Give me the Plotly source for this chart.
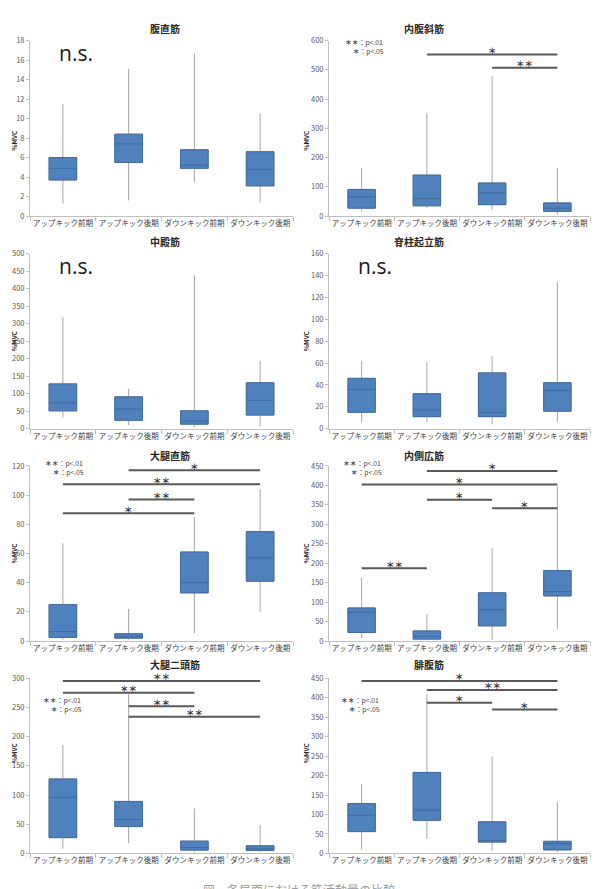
import plotly.graph_objects as go

W, H = 598, 889

categories = ["アップキック前期", "アップキック後期", "ダウンキック前期", "ダウンキック後期"]

titles = ["腹直筋", "内腹斜筋", "中殿筋", "脊柱起立筋", "大腿直筋", "内側広筋", "大腿二頭筋", "腓腹筋"]

# (lower whisker, q1, median, q3, upper whisker) per category
rectus_abdominis = [(1.3, 3.7, 4.9, 6.0, 11.5), (1.6, 5.5, 7.4, 8.4, 15.1),
                    (3.5, 4.9, 5.2, 6.8, 16.7), (1.4, 3.1, 4.8, 6.6, 10.5)]
internal_oblique = [(15, 27, 66, 91, 164), (27, 35, 60, 140, 352),
                    (21, 39, 79, 113, 479), (5, 16, 27, 45, 164)]
gluteus_medius = [(32, 51, 74, 128, 318), (10, 24, 56, 91, 114),
                  (4, 13, 22, 51, 438), (6, 39, 81, 131, 194)]
erector_spinae = [(6, 15, 36, 46, 62), (6, 11, 17, 32, 61),
                  (4, 11, 15, 51, 66), (6, 16, 35, 42, 134)]
rectus_femoris = [(1, 2.5, 6.5, 25, 67), (1, 2, 3, 5, 22),
                  (5.5, 33, 40, 61, 85), (20, 41, 57, 75, 104)]
vastus_medialis = [(8, 22, 74, 85, 162), (2, 5, 12, 26, 69),
                   (3, 39, 80, 124, 239), (30, 116, 127, 181, 398)]
biceps_femoris = [(8, 27, 96, 127.5, 185.5), (17.5, 46, 58, 89, 273),
                  (2, 5.6, 10, 21, 77), (2, 5, 8, 13, 48.5)]
gastrocnemius = [(10, 56, 98, 128, 178.5), (37, 85, 111, 208, 409),
                 (8.5, 29, 33, 81, 249), (3, 9, 25, 31, 132)]

panel_data = [rectus_abdominis, internal_oblique, gluteus_medius, erector_spinae,
              rectus_femoris, vastus_medialis, biceps_femoris, gastrocnemius]

y_max = [18, 600, 500, 160, 120, 450, 300, 450]
y_step = [2, 100, 50, 20, 20, 50, 50, 50]

# significance bars: (from category index, to category index, level, label)
sig_internal_oblique = [(1, 3, 552, "＊"), (2, 3, 507, "＊＊")]
sig_rectus_femoris = [(1, 3, 117, "＊"), (0, 3, 107.5, "＊＊"), (1, 2, 97, "＊＊"), (0, 2, 87.5, "＊")]
sig_vastus_medialis = [(1, 3, 437, "＊"), (0, 3, 402, "＊"), (1, 2, 363, "＊"), (2, 3, 341, "＊"), (0, 1, 187, "＊＊")]
sig_biceps_femoris = [(0, 3, 295.5, "＊＊"), (0, 2, 275, "＊＊"), (1, 2, 252, "＊＊"), (1, 3, 234, "＊＊")]
sig_gastrocnemius = [(0, 3, 443, "＊"), (1, 3, 420, "＊＊"), (1, 2, 387, "＊"), (2, 3, 370, "＊")]

panel_sig = [[], sig_internal_oblique, [], [], sig_rectus_femoris, sig_vastus_medialis,
             sig_biceps_femoris, sig_gastrocnemius]
ns_panels = [0, 2, 3]
legend_panels = {1: (343, 41.5), 4: (43, 467.5), 5: (341, 467.5), 6: (41, 707.5), 7: (339, 707.5)}


def px(x):
    return x / W


def py(y):
    return 1 - y / H


col_x = [(30, 293), (329, 590)]
col_title_x = [148, 446]
row_y = [(35, 212.7), (250.7, 428), (465.7, 643), (680.7, 858)]
title_y = [23, 238, 455, 667]

JP = "Noto Sans CJK JP"
BOX_FILL = "#4F81BD"
BOX_LINE = "#3F6A9E"
WHISK = "#A6A6A6"
AXIS = "#BFBFBF"

fig = go.Figure()
annotations = []
shapes = []

for i, stats in enumerate(panel_data):
    r, c = divmod(i, 2)
    n = i + 1
    xa = "x" if n == 1 else f"x{n}"
    ya = "y" if n == 1 else f"y{n}"
    lo = [s[0] for s in stats]
    q1 = [s[1] for s in stats]
    md = [s[2] for s in stats]
    q3 = [s[3] for s in stats]
    hi = [s[4] for s in stats]
    # whiskers (grey)
    fig.add_trace(go.Box(x=categories, q1=q1, median=md, q3=q3, lowerfence=lo, upperfence=hi,
                         boxpoints=False, width=0.42, whiskerwidth=0,
                         line=dict(color=WHISK, width=1), fillcolor="rgba(0,0,0,0)",
                         xaxis=xa, yaxis=ya, showlegend=False, hoverinfo="skip"))
    # boxes (blue)
    fig.add_trace(go.Box(x=categories, q1=q1, median=md, q3=q3, lowerfence=q1, upperfence=q3,
                         boxpoints=False, width=0.42, whiskerwidth=0,
                         line=dict(color=BOX_LINE, width=1), fillcolor=BOX_FILL,
                         xaxis=xa, yaxis=ya, showlegend=False))

    x0, x1 = col_x[c]
    top, bot = row_y[r]
    xkey = "xaxis" if n == 1 else f"xaxis{n}"
    ykey = "yaxis" if n == 1 else f"yaxis{n}"
    fig.layout[xkey] = dict(domain=[px(x0), px(x1)], anchor=ya, type="category",
                            categoryorder="array", categoryarray=categories,
                            range=[-0.5, 3.5], showline=True, linecolor=AXIS, linewidth=1,
                            ticks="outside", tickson="boundaries", ticklen=4, tickcolor=AXIS,
                            tickangle=0,
                            tickfont=dict(size=7.5, color="#404040", family=JP), showgrid=False,
                            fixedrange=True)
    fig.layout[ykey] = dict(domain=[py(bot), py(top)], anchor=xa, range=[0, y_max[i]],
                            dtick=y_step[i], tick0=0, showline=True, linecolor=AXIS, linewidth=1,
                            ticks="outside", ticklen=3, tickcolor=AXIS, showgrid=False,
                            zeroline=False, tickfont=dict(size=7.5, color="#595959", family=JP),
                            fixedrange=True)

    # panel title
    annotations.append(dict(x=px(col_title_x[c]), y=py(title_y[r]), xref="paper", yref="paper",
                            text=f"<b>{titles[i]}</b>", showarrow=False, yanchor="middle",
                            font=dict(size=10, color="#262626", family=JP)))
    # y-axis title
    annotations.append(dict(x=px(x0 - 23), y=py((top + bot) / 2), xref="paper", yref="paper",
                            text="<b>%MVC</b>", textangle=-90, showarrow=False,
                            font=dict(size=6.5, color="#262626", family=JP)))

    # significance bars
    for a, b, lvl, lab in panel_sig[i]:
        shapes.append(dict(type="line", xref=xa, yref=ya, x0=a, x1=b, y0=lvl, y1=lvl,
                           line=dict(color="#595959", width=2)))
        annotations.append(dict(x=(a + b) / 2, y=lvl, xref=xa, yref=ya, text=f"<b>{lab}</b>",
                                showarrow=False, yanchor="middle", yshift=4.5, borderpad=0,
                                font=dict(size=8.5, color="#333333", family=JP)))

    if i in ns_panels:
        annotations.append(dict(x=px(x0 + 27), y=py(top + 13), xref="paper", yref="paper",
                                text="n.s.", showarrow=False, xanchor="left", yanchor="middle",
                                font=dict(size=21, color="#1a1a1a", family="Open Sans")))

    if i in legend_panels:
        lx, ly = legend_panels[i]
        annotations.append(dict(x=px(lx), y=py(ly), xref="paper", yref="paper",
                                text="<b>＊＊</b>：p<.01<br>&nbsp;&nbsp;&nbsp;&nbsp;&nbsp;<b>＊</b>：p<.05",
                                showarrow=False, xanchor="left", yanchor="middle", align="left",
                                font=dict(size=6.8, color="#404040", family=JP)))

# figure caption (cut off at the bottom edge, as in the source page)
annotations.append(dict(x=px(299), y=py(884), xref="paper", yref="paper",
                        text="図　各局面における筋活動量の比較", showarrow=False,
                        yanchor="top",
                        font=dict(size=12, color="#9a9a9a", family=JP)))

fig.update_layout(width=W, height=H, margin=dict(l=0, r=0, t=0, b=0),
                  paper_bgcolor="white", plot_bgcolor="white",
                  font=dict(family=JP), annotations=annotations, shapes=shapes,
                  boxmode="overlay", showlegend=False)

fig.write_html("out.html")
